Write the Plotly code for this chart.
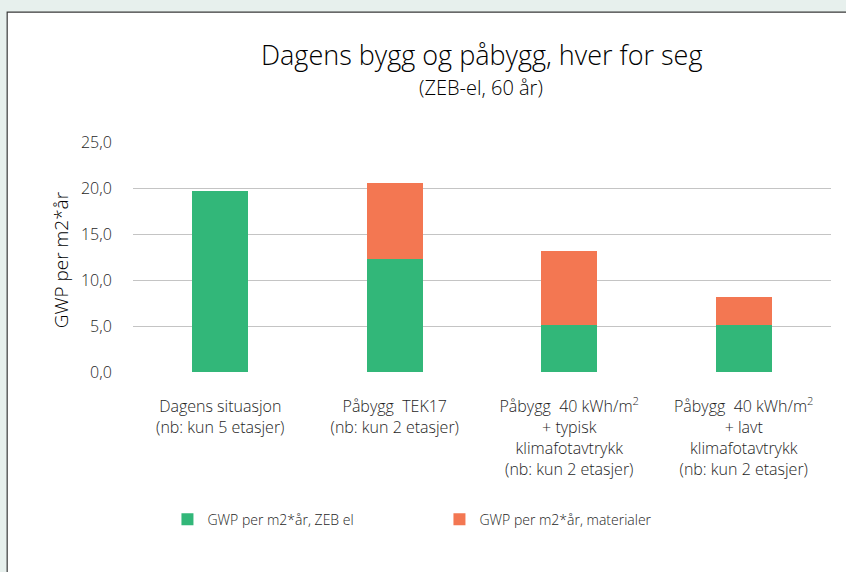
import plotly.graph_objects as go

categories = [
    "Dagens situasjon<br>(nb: kun 5 etasjer)",
    "Påbygg  TEK17<br>(nb: kun 2 etasjer)",
    "Påbygg  40 kWh/m<sup>2</sup><br>+ typisk<br>klimafotavtrykk<br>(nb: kun 2 etasjer)",
    "Påbygg  40 kWh/m<sup>2</sup><br>+ lavt<br>klimafotavtrykk<br>(nb: kun 2 etasjer)",
]
zeb_el = [19.7, 12.3, 5.1, 5.1]
materialer = [0.0, 8.2, 8.1, 3.0]
series_names = ["GWP per m2*år, ZEB el", "GWP per m2*år, materialer"]
y_ticks = [0, 5, 10, 15, 20, 25]

W, H = 846, 572
L, R, T, B = 132.5, 14.5, 142.3, 199.7
pw, ph = W - L - R, H - T - B

def px(x):
    return (x - L) / pw

def py(y):
    return (H - B - y) / ph

FONT = "Open Sans"
GREEN = "#32b779"
ORANGE = "#f37752"
OUTER = "#e7f0ed"
TXT = "#1e1e1e"

fig = go.Figure()
fig.add_trace(go.Bar(x=categories, y=zeb_el, name=series_names[0],
                     marker=dict(color=GREEN, line=dict(width=0))))
fig.add_trace(go.Bar(x=categories, y=materialer, name=series_names[1],
                     marker=dict(color=ORANGE, line=dict(width=0))))

fig.update_layout(
    width=W, height=H,
    margin=dict(l=L, r=R, t=T, b=B, pad=0),
    barmode="stack",
    bargap=0.68,
    separators=", ",
    paper_bgcolor=OUTER,
    plot_bgcolor="rgba(0,0,0,0)",
    font=dict(family=FONT, size=15, color=TXT, weight=300),
    showlegend=True,
    legend=dict(orientation="h", x=px(167), y=py(504), xanchor="left", yanchor="top",
                entrywidth=227, entrywidthmode="pixels",
                font=dict(family=FONT, size=14, color=TXT, weight=300),
                bgcolor="rgba(0,0,0,0)", traceorder="normal"),
    xaxis=dict(showgrid=False, showline=False, zeroline=False,
               ticks="outside", ticklen=20, tickcolor="rgba(0,0,0,0)",
               tickfont=dict(family=FONT, size=16, color=TXT, weight=300)),
    yaxis=dict(range=[0, 25], tickvals=y_ticks, tickformat=".1f",
               showgrid=True, gridcolor="#c4c4c4", gridwidth=1.2,
               zeroline=False, showline=False,
               ticks="outside", ticklen=17, tickcolor="rgba(0,0,0,0)",
               tickfont=dict(family=FONT, size=16, color=TXT, weight=300)),
    shapes=[dict(type="rect", xref="paper", yref="paper", layer="below",
                 x0=px(6.5), x1=px(W + 20), y0=py(H + 20), y1=py(12.5),
                 fillcolor="white", line=dict(color="#3a3a3a", width=1.2))],
    annotations=[
        dict(text="Dagens bygg og påbygg, hver for seg", xref="paper", yref="paper",
             x=px(481), y=py(55), xanchor="center", yanchor="middle", showarrow=False,
             font=dict(family=FONT, size=27, color="#000000", weight=300)),
        dict(text="(ZEB-el, 60 år)", xref="paper", yref="paper",
             x=px(481), y=py(88), xanchor="center", yanchor="middle", showarrow=False,
             font=dict(family=FONT, size=20, color="#000000", weight=300)),
        dict(text="GWP per m2*år", xref="paper", yref="paper", textangle=-90,
             x=px(60), y=py(260), xanchor="center", yanchor="middle", showarrow=False,
             font=dict(family=FONT, size=19, color="#000000", weight=300)),
    ],
)

fig.write_html("out.html",
               config={"displayModeBar": False},
               post_script="document.body.style.margin='0';"
                           "document.body.style.background='" + OUTER + "';"
                           "document.body.style.overflow='hidden';")
